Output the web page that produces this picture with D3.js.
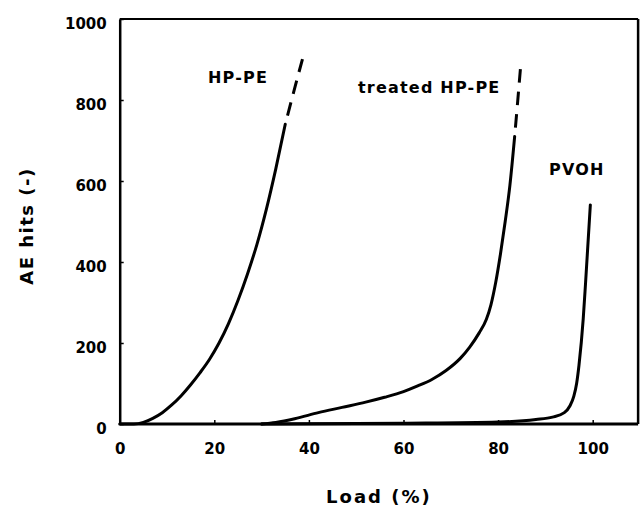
<!DOCTYPE html>
<html>
<head>
<meta charset="utf-8">
<script src="https://cdn.jsdelivr.net/npm/d3@7"></script>
<style>
html,body{margin:0;padding:0;background:#fff;}
svg{display:block;}
text{font-family:"DejaVu Sans",sans-serif;font-weight:bold;fill:#000;}
</style>
</head>
<body>
<svg id="chart" width="640" height="509"></svg>
<script>
// ---- data (load %, AE hits) ----
const xTicks = [0, 20, 40, 60, 80, 100];
const yTicks = [0, 200, 400, 600, 800, 1000];

const hppeSolid = [[0,0],[3,0],[5,4],[7,14],[9,28],[11,47],[13,70],[15,97],[17,127],[19,160],[21,200],[23,248],[25,305],[27,370],[29,443],[31,530],[33,630],[35,740]];
const hppeDashed = [[35,740],[36.9,825],[38.8,908]];

const treatedSolid = [[30,0],[33,4],[37,13],[42,28],[47,41],[52,54],[56,66],[60,80],[63,94],[66,110],[69,132],[72,162],[74,190],[76,225],[77.5,258],[78.5,295],[79.5,350],[80.5,420],[81.5,500],[82.5,590],[83.5,710]];
const treatedDashed = [[83.5,710],[84.15,798],[84.8,888]];

const pvohSolid = [[30,0],[60,2],[80,5],[88,11],[91.5,17],[94,28],[95.2,45],[96,68],[96.6,100],[97.1,145],[98,260],[98.5,350],[99.5,541]];

const seriesLabels = [
  {text:"HP-PE", x:208, y:83},
  {text:"treated HP-PE", x:358, y:93},
  {text:"PVOH", x:549, y:175}
];

// ---- layout ----
const svg = d3.select("#chart");
const x = d3.scaleLinear().domain([0, 100]).range([119.7, 592.7]);
const y = d3.scaleLinear().domain([0, 1000]).range([424, 19]);
const xRight = x(109.6);

// frame (top and right)
svg.append("line").attr("x1", x(0)).attr("x2", xRight).attr("y1", y(1000)).attr("y2", y(1000))
  .attr("stroke", "#000").attr("stroke-width", 2);
svg.append("line").attr("x1", xRight).attr("x2", xRight).attr("y1", y(1000)).attr("y2", y(0))
  .attr("stroke", "#000").attr("stroke-width", 2.5);

// y axis
const yAxis = svg.append("g").attr("transform", `translate(${x(0)},0)`)
  .call(d3.axisLeft(y).tickValues(yTicks).tickSizeInner(-4).tickSizeOuter(0).tickPadding(13).tickFormat(d3.format("d")));
yAxis.select(".domain").attr("stroke-width", 2.5);
yAxis.selectAll(".tick line").attr("stroke-width", 1.5);
yAxis.selectAll(".tick text").attr("font-size", 15).attr("dy", "0.6em")
  .style("font-family", '"DejaVu Sans",sans-serif').style("font-weight", "bold");

// x axis
const xAxis = svg.append("g").attr("transform", `translate(0,${y(0)})`)
  .call(d3.axisBottom(x).tickValues(xTicks).tickSizeInner(-4).tickSizeOuter(0).tickPadding(19).tickFormat(d3.format("d")));
xAxis.select(".domain").attr("d", `M${x(0)},0H${xRight}`).attr("stroke-width", 3);
xAxis.selectAll(".tick line").attr("stroke-width", 1.5);
xAxis.selectAll(".tick text").attr("font-size", 15)
  .style("font-family", '"DejaVu Sans",sans-serif').style("font-weight", "bold");

// curves
const line = d3.line().x(d => x(d[0])).y(d => y(d[1])).curve(d3.curveMonotoneX);
const solids = [hppeSolid, treatedSolid, pvohSolid];
const dashes = [hppeDashed, treatedDashed];
svg.selectAll("path.solid").data(solids).enter().append("path").attr("class", "solid")
  .attr("d", line).attr("fill", "none").attr("stroke", "#000").attr("stroke-width", 3)
  .attr("stroke-linecap", "round");
svg.selectAll("path.dash").data(dashes).enter().append("path").attr("class", "dash")
  .attr("d", line).attr("fill", "none").attr("stroke", "#000").attr("stroke-width", 3)
  .attr("stroke-dasharray", "13.5,9").attr("stroke-dashoffset", 13.5);

// series labels
svg.selectAll("text.lbl").data(seriesLabels).enter().append("text").attr("class", "lbl")
  .attr("x", d => d.x).attr("y", d => d.y).attr("font-size", 16)
  .attr("letter-spacing", "1.2px").text(d => d.text);

// axis titles
svg.append("text").attr("x", (x(0) + xRight) / 2).attr("y", 503).attr("text-anchor", "middle")
  .attr("font-size", 18).attr("letter-spacing", "2px").text("Load (%)");
svg.append("text").attr("transform", "translate(33,226) rotate(-90)").attr("text-anchor", "middle")
  .attr("font-size", 18).attr("letter-spacing", "1.5px").text("AE hits (-)");
</script>
</body>
</html>
